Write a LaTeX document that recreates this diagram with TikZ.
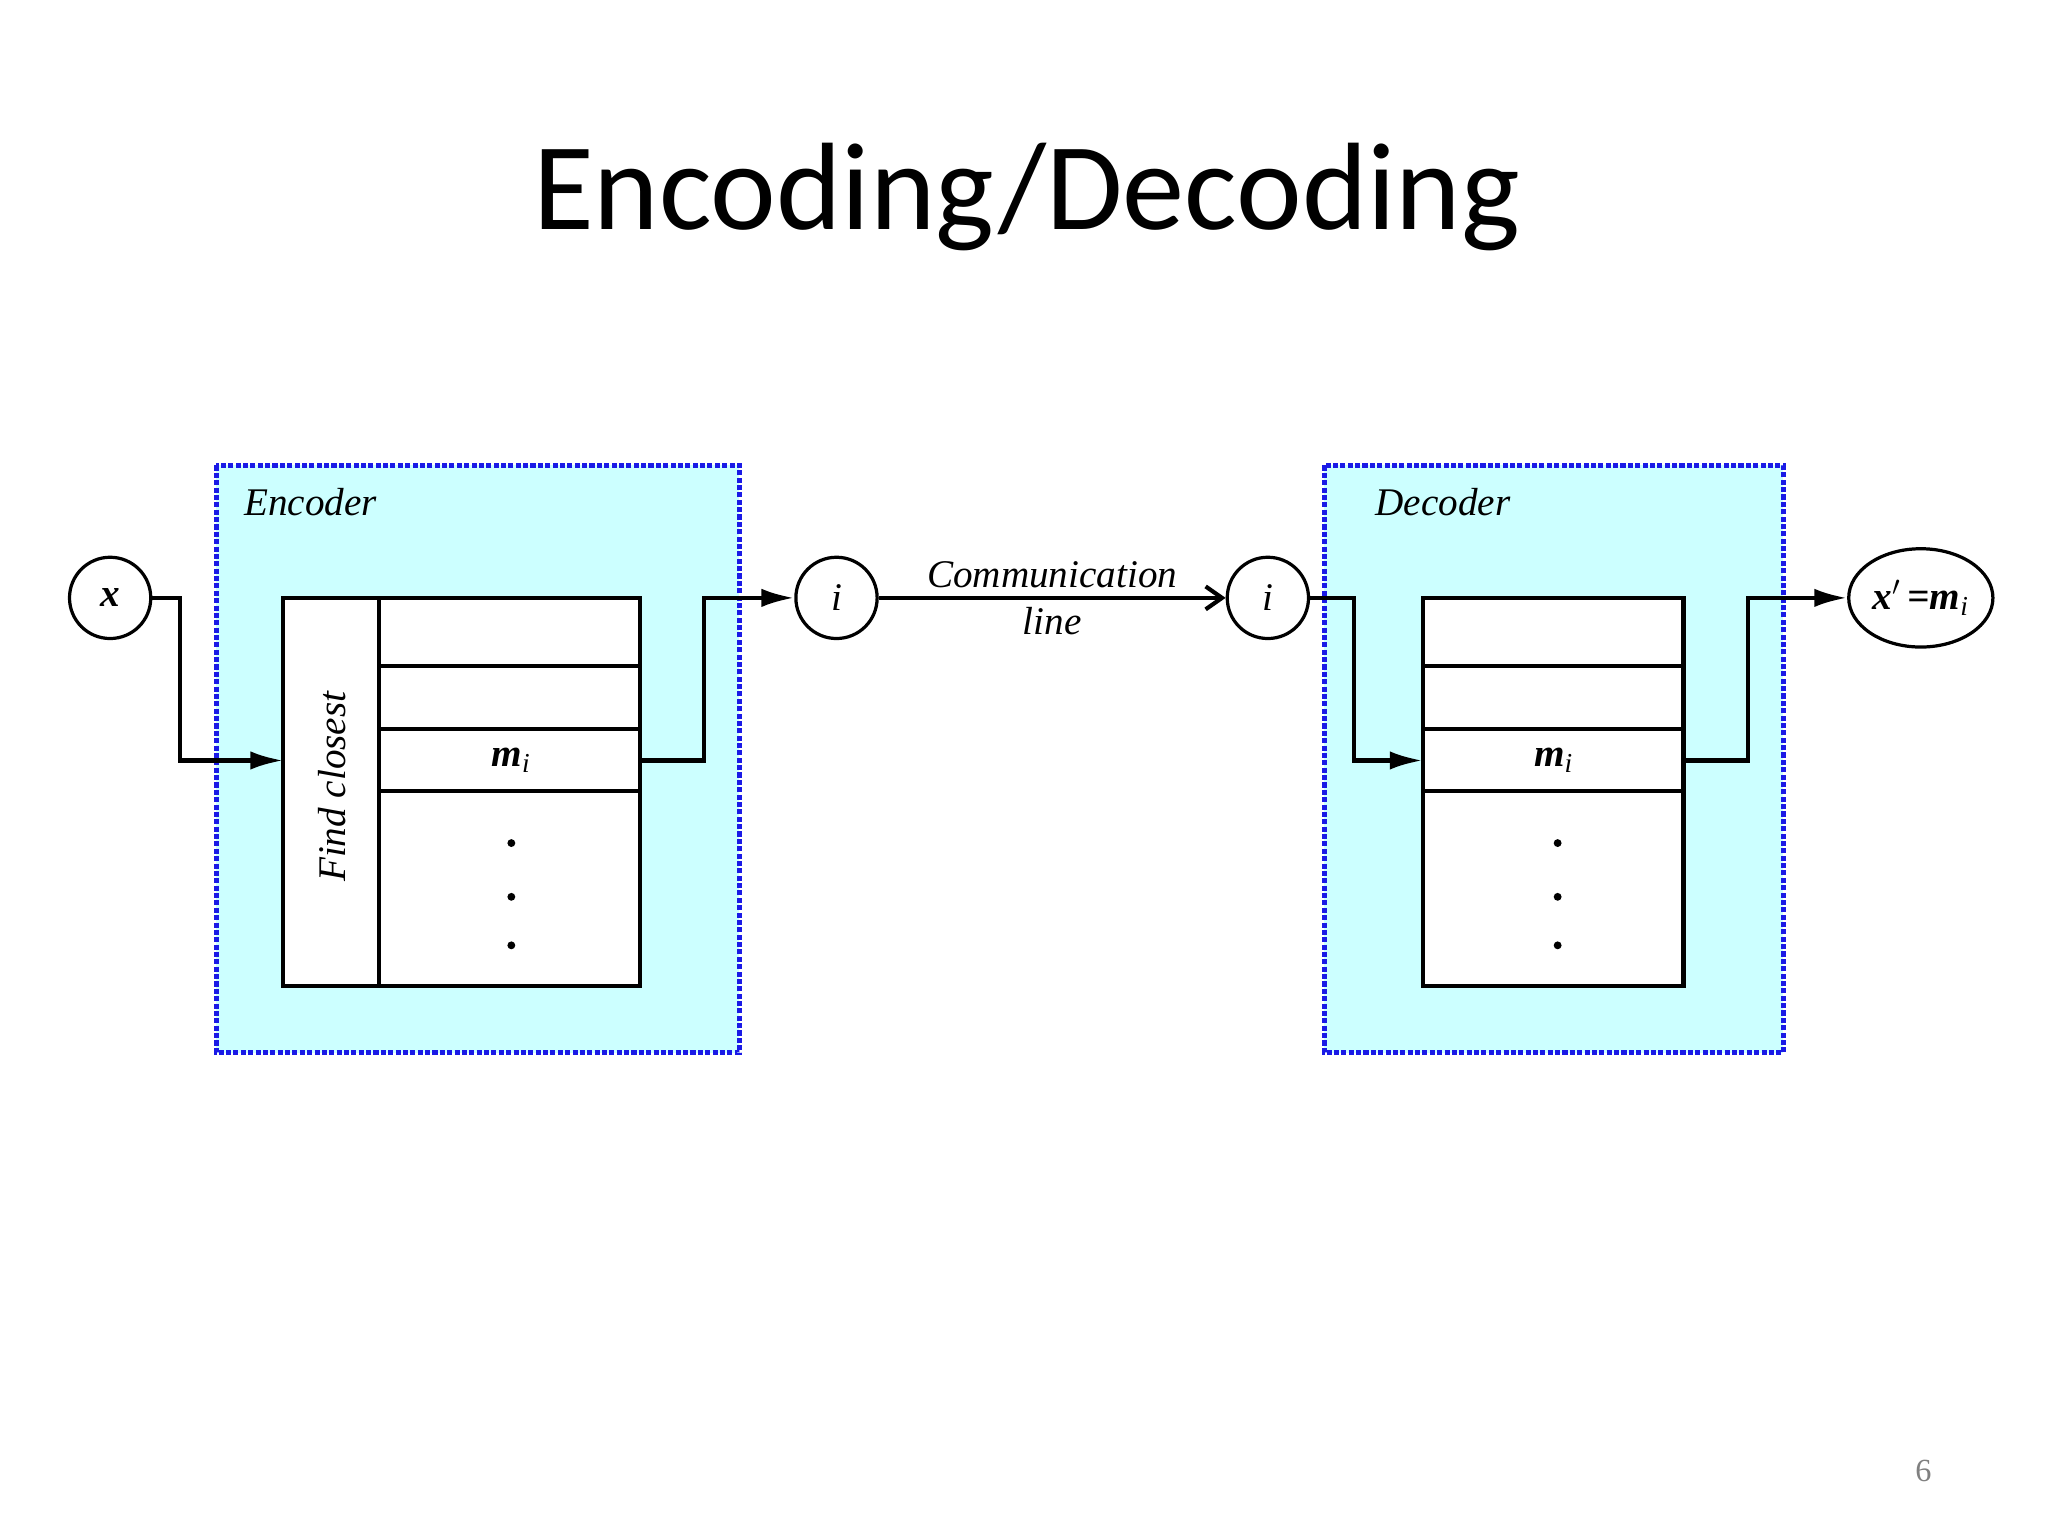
\documentclass[tikz,border=0pt]{standalone}
\usepackage{fontspec}
\setmainfont{Liberation Serif}
\newfontfamily\titlefont{Carlito}
\usetikzlibrary{arrows.meta,shapes.geometric}
\definecolor{boxfill}{HTML}{CCFFFF}
\definecolor{boxline}{HTML}{1A1AE6}
\begin{document}
\begin{tikzpicture}[x=0.02cm,y=-0.02cm,
  lbl/.style={font=\fontsize{17}{20}\selectfont\itshape},
  circ/.style={draw,line width=1.4pt,circle,minimum size=1.24cm,inner sep=0pt,font=\fontsize{17}{20}\selectfont\itshape},
  blk/.style={draw=boxline,line width=2.2pt,densely dotted,fill=boxfill},
  tab/.style={draw,line width=1.8pt,fill=white},
  wire/.style={line width=1.8pt},
  arr/.style={wire,-{Latex[length=0.5cm,width=0.28cm]}}]
\useasboundingbox (0,0) rectangle (1562,1171.5);
\node[font=\titlefont\fontsize{54}{62}\selectfont] (title) at (783,150) {Encoding/Decoding};
\node[text=gray,font=\fontsize{14}{16}\selectfont] (pg) at (1467,1122) {6};
% boxes
\path[blk] (165,355) rectangle (564,803);
\path[blk] (1010,355) rectangle (1360,803);
\node[lbl,anchor=west] (enc) at (180,383) {Encoder};
\node[lbl,anchor=west] (dec) at (1043,383) {Decoder};
% encoder table
\path[tab] (216,456) rectangle (488,752);
\draw[wire] (289,456) -- (289,752);
\foreach \y in {508,556,603} \draw[wire] (289,\y) -- (488,\y);
\node[lbl,rotate=90] (fc) at (253,600) {Find closest};
\node[lbl,font=\fontsize{17}{20}\selectfont\bfseries\itshape] (mi1) at (390,580) {m$_{\mathit{i}}$};
\foreach \y in {643,684,721} \fill (390,\y) circle (0.06cm);
% decoder table
\path[tab] (1085,456) rectangle (1284,752);
\foreach \y in {508,556,603} \draw[wire] (1085,\y) -- (1284,\y);
\node[lbl,font=\fontsize{17}{20}\selectfont\bfseries\itshape] (mi2) at (1185,580) {m$_{\mathit{i}}$};
\foreach \y in {643,684,721} \fill (1188,\y) circle (0.06cm);
% circles
\node[circ,font=\fontsize{17}{20}\selectfont\bfseries\itshape] (x) at (84,456) {x};
\node[circ] (i1) at (638,456) {i};
\node[circ] (i2) at (967,456) {i};
\node[draw,line width=1.4pt,ellipse,minimum width=2.2cm,minimum height=1.5cm,inner sep=0pt,font=\fontsize{17}{20}\selectfont\bfseries\itshape] (xo) at (1465,456) {x$'$\,=m$_{\mathit{i}}$};
% connectors
\coordinate (inE) at (216,580);
\coordinate (outE) at (488,580);
\coordinate (inD) at (1085,580);
\coordinate (outD) at (1284,580);
\draw[arr] (x.east) -| (137,580) -- (inE);
\draw[arr] (outE) -- (537,580) |- (i1.west);
\draw[wire,-{Straight Barb[length=0.25cm,width=0.35cm]}] (i1.east) -- (i2.west)
  node[midway,above,lbl] {Communication} node[midway,below,lbl] {line};
\draw[arr] (i2.east) -| (1033,580) -- (inD);
\draw[arr] (outD) -- (1333,580) |- (xo.west);
\end{tikzpicture}
\end{document}
